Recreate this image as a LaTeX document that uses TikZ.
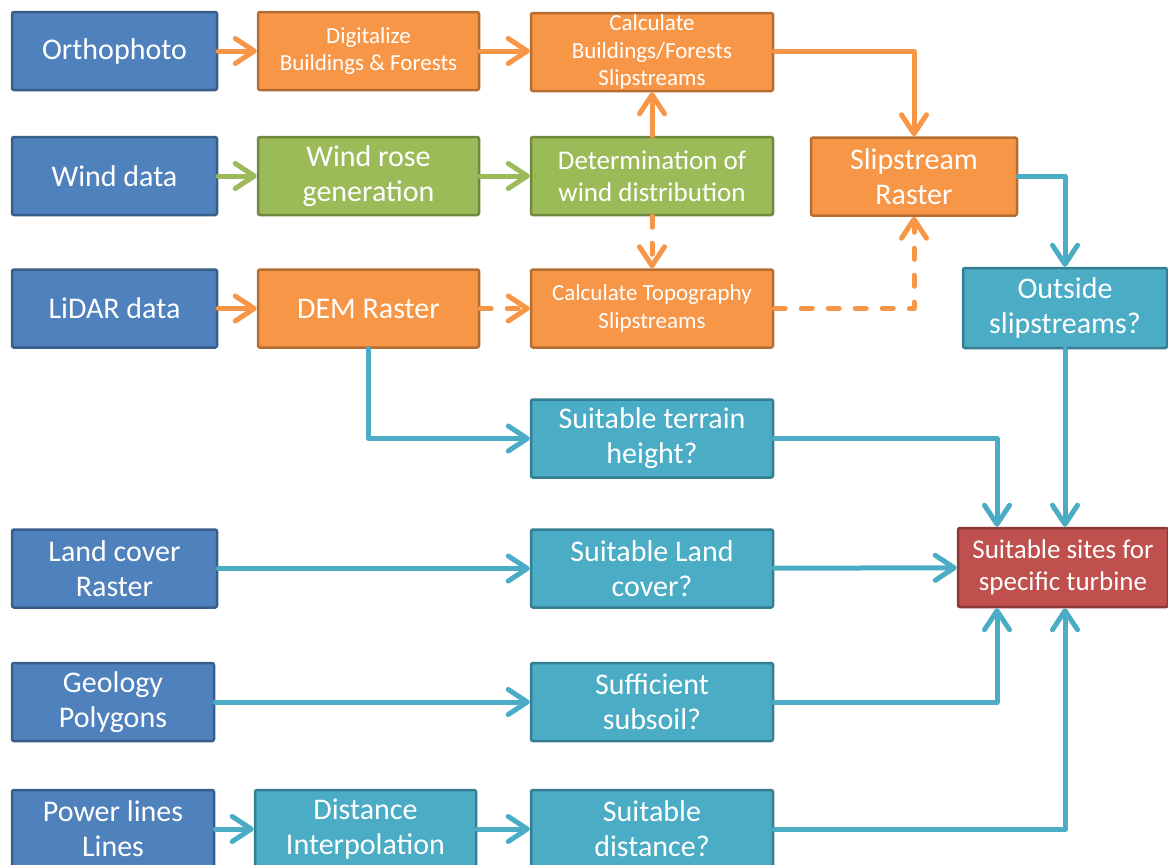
\documentclass[tikz,border=0pt]{standalone}
\usepackage{fontspec}
\setmainfont{Carlito}
\usepackage{xcolor}
\usepackage{tikz}
\usetikzlibrary{positioning, arrows.meta, calc}
\definecolor{srcblue}{HTML}{4F81BD}
\definecolor{srcblueline}{HTML}{385D8A}
\definecolor{procorange}{HTML}{F79646}
\definecolor{procorangeline}{HTML}{B66D31}
\definecolor{windgreen}{HTML}{9BBB59}
\definecolor{windgreenline}{HTML}{71893F}
\definecolor{checkteal}{HTML}{4BACC6}
\definecolor{checktealline}{HTML}{357D91}
\definecolor{resultred}{HTML}{C0504D}
\definecolor{resultredline}{HTML}{8C3836}

\tikzset{
  box/.style={line width=2.5pt, rounded corners=2pt, inner sep=0pt, align=center,
              text=white, minimum height=78pt, font=\fontsize{30}{35}\selectfont},
  srcbox/.style={box, fill=srcblue, draw=srcblueline, minimum width=205pt},
  procbox/.style={box, fill=procorange, draw=procorangeline},
  windbox/.style={box, fill=windgreen, draw=windgreenline},
  checkbox/.style={box, fill=checkteal, draw=checktealline},
  resultbox/.style={box, fill=resultred, draw=resultredline},
  midtext/.style={font=\fontsize{27}{32}\selectfont},
  smalltext/.style={font=\fontsize{23}{27.5}\selectfont},
  flow/.style={line width=5pt, line cap=round, line join=round,
               -{Straight Barb[length=19pt, width=25pt, round]}},
  orangeflow/.style={flow, draw=procorange},
  greenflow/.style={flow, draw=windgreen},
  tealflow/.style={flow, draw=checkteal},
  dashflow/.style={dash pattern=on 11pt off 16pt}
}

\begin{document}
\begin{tikzpicture}[x=1pt, y=-1pt]
  \useasboundingbox (0,0) rectangle (1168,865);
  \clip (0,0) rectangle (1168,865);

  % inputs
  \node[srcbox] (ortho) at (114.5,51) {Orthophoto};
  \node[srcbox] (wind) at (114.5,176) {Wind data};
  \node[srcbox] (lidar) at (114.5,308.5) {LiDAR data};
  \node[srcbox] (landcover) at (114.5,568.5) {Land cover\\Raster};
  \node[srcbox, minimum width=202pt] (geology) at (113,702) {Geology\\Polygons};
  \node[srcbox, minimum width=202pt] (power) at (113,829) {Power lines\\Lines};

  % processing
  \node[procbox, smalltext, minimum width=221pt] (digit) at (368.5,51) {Digitalize\\Buildings \& Forests};
  \node[windbox, minimum width=221pt] (rose) at (368.5,176) {Wind rose\\generation};
  \node[procbox, minimum width=221pt] (dem) at (368.5,308.5) {DEM Raster};
  \node[checkbox, minimum width=221pt] (interp) at (365.5,829) {Distance\\Interpolation};

  \node[procbox, smalltext, minimum width=242pt] (calcbf) at (652,52) {Calculate\\Buildings/Forests\\Slipstreams};
  \node[windbox, midtext, minimum width=242pt] (distrib) at (652,176) {Determination of\\wind distribution};
  \node[procbox, smalltext, minimum width=242pt] (topo) at (652,308.5) {Calculate Topography\\Slipstreams};
  \node[checkbox, minimum width=242pt] (terrain) at (652,438.5) {Suitable terrain\\height?};
  \node[checkbox, minimum width=242pt] (landq) at (652,568.5) {Suitable Land\\cover?};
  \node[checkbox, minimum width=242pt] (subsoil) at (652,702) {Sufficient\\subsoil?};
  \node[checkbox, minimum width=242pt] (distq) at (652,829) {Suitable\\distance?};

  \node[procbox, minimum width=206pt] (slip) at (914,176.5) {Slipstream\\Raster};
  \node[checkbox, minimum width=204pt, minimum height=80pt] (outside) at (1065,308) {Outside\\slipstreams?};
  \node[resultbox, midtext, minimum width=210pt, minimum height=79pt] (sites) at (1063,567.5) {Suitable sites for\\specific turbine};

  % connectors
  \draw[orangeflow] (ortho) -- (digit);
  \draw[orangeflow] (digit.east |- ortho) -- (calcbf.west |- ortho);
  \draw[orangeflow] (calcbf.east |- ortho) -| (slip.north);
  \draw[orangeflow] (distrib.north) -- (calcbf.south);
  \draw[orangeflow, dashflow] (distrib.south) -- (topo.north);
  \draw[greenflow] (wind) -- (rose);
  \draw[greenflow] (rose) -- (distrib);
  \draw[orangeflow] (lidar) -- (dem);
  \draw[orangeflow, dashflow] (dem) -- (topo);
  \draw[orangeflow, dashflow] (topo.east) -| (slip.south);
  \draw[tealflow] (slip.east) -| (outside.north);
  \draw[tealflow] (dem.south) |- (terrain.west);
  \draw[tealflow] (terrain.east) -| ([xshift=-66pt]sites.north);
  \draw[tealflow] (outside.south) -- (outside.south |- sites.north);
  \draw[tealflow] (landcover) -- (landq);
  \draw[tealflow] (landq) -- (sites);
  \draw[tealflow] (geology) -- (subsoil);
  \draw[tealflow] (subsoil.east) -| ([xshift=-66pt]sites.south);
  \draw[tealflow] (power) -- (interp);
  \draw[tealflow] (interp) -- (distq);
  \draw[tealflow] (distq.east) -| (outside.south |- sites.south);
\end{tikzpicture}
\end{document}
